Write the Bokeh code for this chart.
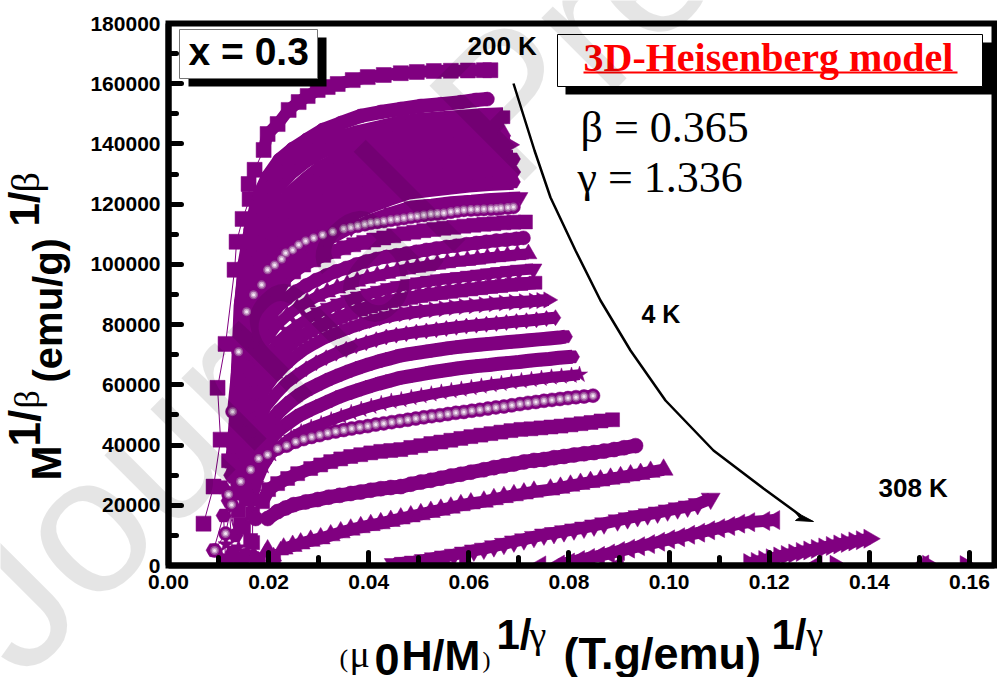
from math import pi, sin, cos
from bokeh.plotting import figure
from bokeh.models import FixedTicker, Range1d, NumeralTickFormatter
from bokeh.core.properties import value
from bokeh.embed import file_html
from bokeh.resources import INLINE

TITLE_X = ["(", "\u03bc", "0", "H/M", ")", "1/", "\u03b3", "(T.g/emu)", "1/", "\u03b3"]
X_TICKS = [0.00, 0.02, 0.04, 0.06, 0.08, 0.10, 0.12, 0.14, 0.16]
Y_TICKS = [0, 20000, 40000, 60000, 80000, 100000, 120000, 140000, 160000, 180000]

x01 = [.0070,.0090,.0104,.0098,.0114,.0132,.0136,.0148,.0162,.0160,.0172,.0190,.0198,.0218,.0240,.0260,.0278,.0298,.0318,.0338,.0368,.0398,.0430,.0464,.0496,.0530,.0564,.0598,.0630,.0643]
y01 = [13900,26200,41800,59000,73600,98200,107500,115100,121700,126700,131400,138000,143300,146600,151300,153900,155900,157900,158900,159900,161200,162200,162900,163500,163900,164200,164300,164400,164500,164500]
x02 = [.0130,.0138,.0142,.0146,.0152,.0164,.0180,.0198,.0222,.0248,.0276,.0308,.0344,.0384,.0424,.0464,.0504,.0544,.0584,.0614,.0637]
y02 = [31200,47800,71000,87600,100200,111500,122400,129000,134700,138300,141300,144600,146900,149300,150600,151600,152600,153200,153900,154600,154900]
x03 = [.0132,.0140,.0146,.0150,.0158,.017,.019,.021,.024,.027,.030,.034,.038,.042,.046,.050,.054,.058,.062,.0669]
y03 = [32000,47000,70000,86000,97000,107000,119000,125500,131000,135000,138000,141000,143000,144500,146000,147000,147500,148000,148500,148900]
x04 = [.0134,.0142,.0148,.0153,.016,.0175,.0195,.0215,.0245,.0275,.0305,.0345,.0385,.0425,.0465,.0505,.0545,.0585,.0625,.0669]
y04 = [30000,46000,68000,82000,92000,102000,111000,117000,123000,127500,131500,135000,137500,139800,141600,142500,143000,143500,143800,144000]
x05 = [.0136,.0144,.015,.0156,.0165,.018,.020,.022,.025,.028,.031,.035,.039,.043,.047,.051,.055,.059,.063,.0683]
y05 = [28000,45000,66000,78000,87000,97000,106000,112000,118000,122500,126500,130000,132800,135300,137500,138000,138500,139000,139300,139700]
x06 = [.0138,.0146,.0152,.0158,.0168,.0185,.0205,.0225,.0255,.0285,.0315,.0355,.0395,.0435,.0475,.0515,.0555,.0595,.0635,.0689]
y06 = [27000,43000,63000,74000,83000,92000,101000,107500,113500,118000,121500,125000,128000,130400,132500,133000,133600,134000,134500,135000]
x07 = [.014,.0148,.0154,.016,.017,.0187,.0207,.0227,.0257,.0287,.0317,.0357,.0397,.0437,.0477,.0517,.0557,.0597,.0637,.0693]
y07 = [26000,41000,60000,70000,79000,88000,97000,103000,109000,113500,117000,120500,123500,126000,128200,128800,129300,129800,130200,130700]
x08 = [.0142,.015,.0156,.0162,.0172,.019,.021,.023,.026,.029,.032,.036,.040,.044,.048,.052,.056,.060,.064,.0689]
y08 = [25000,39000,57000,67000,75000,84000,93000,99000,105000,109500,113000,116500,119500,122000,124200,125000,125800,126500,127000,127400]
x09 = [.0144,.0152,.0158,.0165,.0175,.0195,.0215,.0235,.0265,.0295,.0325,.0365,.0405,.0445,.0485,.0525,.0565,.0605,.0645,.0703]
y09 = [24000,37000,54000,64000,72000,80000,89000,95000,101000,105000,108500,112000,115000,117300,119400,120000,120800,121300,121900,122400]
x10 = [.0128,.0140,.0156,.0170,.0186,.0198,.0212,.0226,.0234,.0248,.0260,.0274,.0290,.0308,.0328,.0350,.0364,.0378,.0392,.0404,.0417,.0430,.0444,.0457,.0470,.0484,.0497,.0510,.0524,.0537,.0550,.0564,.0577,.0590,.0604,.0617,.0630,.0644,.0655,.0664,.0678,.0689]
y10 = [51100,71000,84300,89900,93200,98200,99800,101800,103800,104800,106500,107800,108800,109800,110800,111800,112300,112800,113300,113800,114100,114400,114800,115100,115400,115800,116100,116400,116700,116900,117100,117500,117800,118100,118200,118300,118400,118500,118600,118700,118900,119100]
x11 = [.0135,.0145,.016,.0175,.019,.021,.023,.025,.027,.029,.031,.033,.035,.037,.039,.041,.043,.045,.047,.049,.051,.053,.055,.057,.059,.061,.063,.065,.067,.069,.0713]
y11 = [45000,62000,76000,82000,87000,92000,95000,97500,99800,101500,103000,104300,105500,106500,107300,108100,108800,109500,110200,110700,111200,111600,112000,112300,112700,113000,113300,113500,113800,114000,114100]
x12 = [.014,.015,.0165,.018,.0195,.0215,.0235,.0255,.0275,.0295,.0315,.0335,.0355,.0375,.0395,.0415,.0435,.0455,.0475,.0495,.0515,.0535,.0555,.0575,.0595,.0615,.0635,.0655,.0675,.0695,.0709]
y12 = [42000,58000,70000,76000,81000,85500,88500,91000,93000,94800,96300,97700,98800,100000,101000,101800,102500,103000,103600,104200,104800,105300,105800,106200,106700,107100,107500,107900,108200,108500,108800]
x13 = [.0142,.0152,.0167,.0182,.0197,.0217,.0237,.0257,.0277,.0297,.0317,.0337,.0357,.0377,.0397,.0417,.0437,.0457,.0477,.0497,.0517,.0537,.0557,.0577,.0597,.0617,.0637,.0657,.0677,.0697,.0719]
y13 = [39000,54000,65000,71000,75500,80000,83000,85500,87500,89300,90800,92100,93300,94400,95400,96200,97000,97800,98400,99000,99500,100000,100500,101000,101300,101700,102100,102500,102800,103200,103500]
x14 = [.0145,.0155,.017,.0185,.020,.022,.024,.026,.028,.030,.032,.034,.036,.038,.040,.042,.044,.046,.048,.050,.052,.054,.056,.058,.060,.062,.064,.066,.068,.070,.0729]
y14 = [37000,50000,61000,66000,70000,74500,77500,80000,82200,84000,85500,86900,88100,89200,90200,91100,92000,92700,93300,93900,94400,94900,95300,95700,96100,96500,96900,97300,97700,98100,98500]
x15 = [.015,.016,.0175,.019,.0205,.0225,.0245,.0265,.0285,.0305,.0325,.0345,.0365,.0385,.0405,.0425,.0445,.0465,.0485,.0505,.0525,.0545,.0565,.0585,.0605,.0625,.0645,.0665,.0685,.0705,.0733]
y15 = [35000,47000,57000,62000,66000,70500,73500,76000,78000,79800,81200,82500,83800,85000,86000,87000,87800,88300,88900,89500,90000,90500,90900,91300,91700,92100,92500,92800,93200,93500,93900]
x16 = [.015,.016,.0175,.019,.021,.023,.025,.027,.029,.031,.033,.035,.037,.039,.041,.043,.045,.047,.049,.051,.053,.055,.057,.059,.061,.063,.065,.067,.069,.071,.073,.0745,.0759]
y16 = [33000,44000,53000,58000,62500,66000,69000,71500,73500,75300,76800,78100,79300,80400,81400,82300,83000,83600,84100,84500,84900,85300,85700,86000,86300,86600,86900,87200,87400,87600,87800,88000,88200]
x17 = [.0155,.0165,.018,.0195,.0215,.0235,.0255,.0275,.0295,.0315,.0335,.0355,.0375,.0395,.0415,.0435,.0455,.0475,.0495,.0515,.0535,.0555,.0575,.0595,.0615,.0635,.0655,.0675,.0695,.0715,.0735,.0755,.0773]
y17 = [30000,40000,48000,53000,57000,60500,63000,65300,67300,69000,70500,71800,73000,74000,75000,75900,76500,77000,77500,77900,78300,78700,79100,79500,79800,80100,80400,80700,81000,81300,81600,82000,82300]
x18 = [.016,.017,.0185,.020,.022,.024,.026,.028,.030,.032,.034,.036,.038,.040,.042,.044,.046,.048,.050,.052,.054,.056,.058,.060,.062,.064,.066,.068,.070,.072,.074,.076,.078,.0793]
y18 = [28000,36000,42500,47000,51000,54000,56500,58500,60200,61800,63200,64500,65700,66800,67800,68700,69600,70200,70700,71200,71700,72200,72600,73000,73300,73600,73900,74200,74500,74800,75100,75400,75700,76000]
x19 = [.016,.017,.0185,.020,.022,.024,.026,.028,.030,.032,.034,.036,.038,.040,.042,.044,.046,.048,.050,.052,.054,.056,.058,.060,.062,.064,.066,.068,.070,.072,.074,.076,.078,.0807]
y19 = [25000,32000,37500,41500,45000,47500,49800,51500,53000,54500,56000,57200,58300,59400,60400,61300,62200,62800,63400,64000,64500,65000,65500,65900,66300,66600,67000,67300,67600,68000,68300,68600,69000,69300]
x20 = [.0165,.0175,.019,.0205,.0225,.0245,.0265,.0285,.0305,.0325,.0345,.0365,.0385,.0405,.0425,.0445,.0465,.0485,.0505,.0525,.0545,.0565,.0585,.0605,.0625,.0645,.0665,.0685,.0705,.0725,.0745,.0765,.0785,.0805,.0821]
y20 = [20000,27000,33000,37000,40000,42500,44300,45800,47000,48300,49500,50700,51800,52800,53700,54500,55000,55700,56300,56900,57500,58000,58500,59000,59500,60000,60400,60900,61300,61700,62100,62500,62800,63100,63400]
x21 = [.0092,.0114,.0126,.0120,.0144,.0164,.0180,.0198,.0218,.0236,.0254,.0270,.0286,.0302,.0318,.0334,.0350,.0366,.0382,.0398,.0414,.0430,.0446,.0462,.0478,.0494,.0510,.0526,.0542,.0558,.0574,.0590,.0606,.0622,.0638,.0654,.0670,.0686,.0702,.0718,.0734,.0750,.0766,.0782,.0798,.0814,.0830,.0848]
y21 = [5000,10600,20200,23600,27900,31800,35500,36800,38800,39800,41100,42000,42700,43300,44000,44500,45000,45500,45900,46300,46800,47200,47600,48000,48400,48800,49200,49600,49900,50300,50700,51000,51400,51700,52100,52500,52800,53200,53600,54000,54300,54700,55000,55300,55600,55900,56100,56400]
x22 = [.0144,.0168,.0168,.0188,.0200,.0218,.0238,.0258,.0284,.0304,.0324,.0344,.0364,.0384,.0404,.0424,.0444,.0464,.0484,.0504,.0524,.0544,.0564,.0584,.0604,.0624,.0644,.0664,.0684,.0704,.0724,.0744,.0764,.0784,.0804,.0824,.0844,.0864,.0887]
y22 = [13600,7600,17200,21200,25200,27200,28900,30500,32200,33400,34500,35400,36200,36800,37400,37900,38200,38500,39200,39800,40500,41000,41600,42200,42800,43300,43800,44300,44800,45200,45400,45700,46000,46300,46700,47100,47500,48000,48400]
x23 = [.0174,.0198,.0218,.0234,.025,.0274,.0298,.0320,.0342,.0364,.0384,.0404,.0424,.0444,.0464,.0484,.0504,.0524,.0544,.0564,.0584,.0604,.0630,.0650,.0670,.0690,.0710,.0730,.0750,.0770,.0790,.0810,.0830,.0850,.0870,.0890,.0910,.0933]
y23 = [15600,15600,17900,19100,20200,21100,21900,22700,23300,23900,24400,25000,25500,25900,26200,27000,27700,28300,29000,29700,30300,31000,31800,32500,33100,33700,34400,34900,35200,35800,36200,36700,37100,37500,38000,38500,39100,39800]
x24 = [.0170,.0198,.0230,.0248,.0264,.0284,.0304,.0324,.0344,.0364,.0384,.0404,.0424,.0444,.0464,.0484,.0504,.0524,.0544,.0564,.0584,.0604,.0630,.0650,.0670,.0690,.0710,.0730,.0763,.0783,.0803,.0823,.0843,.0863,.0883,.0903,.0923,.0943,.0963,.0989]
y24 = [3000,5000,5600,6500,7300,8200,9000,10000,11000,11900,12700,13400,14000,14800,15600,16300,17000,17800,18500,19200,20000,20600,21200,22000,22700,23300,23900,24500,25200,25800,26500,27100,27700,28200,28800,29300,29900,30400,31100,31800]
x25 = [.0450,.0470,.0490,.0510,.0530,.0550,.0570,.0590,.0610,.0630,.0650,.0670,.0690,.0710,.0730,.0750,.0770,.0790,.0810,.0830,.0850,.0870,.0897,.0917,.0937,.0957,.0977,.0997,.1017,.1037,.1057,.1083]
y25 = [500,900,1300,1800,2400,3000,3600,4300,5000,5600,6400,7200,8000,8700,9500,10300,10800,11400,12000,12600,13300,14000,15000,15700,16400,17000,17600,18300,19000,19600,20400,22200]
x26 = [.0780,.0800,.0820,.0840,.0860,.0880,.0900,.0920,.0940,.0960,.0980,.1000,.1020,.1040,.1060,.1080,.1100,.1120,.1140,.1160,.1190,.1210]
y26 = [300,1000,1800,2500,3200,4000,4800,5600,6400,7100,7900,8700,9400,10200,10900,11700,12400,13100,13900,14400,14800,15100]
x27 = [.1160,.1175,.119,.1205,.122,.1235,.125,.1265,.128,.1295,.131,.1325,.134,.1355,.137,.1385,.1400]
y27 = [800,1200,1800,2400,3000,3500,4000,4500,5000,5500,6000,6500,7000,7500,8000,8400,8900]

low_hex_x = [.0090,.0110,.0114,.0128,.0120,.0134,.0108,.0125,.0128,.0135,.0140,.0145]
low_hex_y = [5100,16600,1700,4300,21500,10000,26000,30000,40000,33000,44000,26000]
low_star_x = [.0120,.0105,.0115,.0130,.0140]
low_star_y = [1700,3000,7000,2000,6000]
low_sq_x = [.0150,.0164,.0140,.0134,.0120,.0128,.0210,.0180,.0155]
low_sq_y = [12600,8300,18200,29800,34800,24000,1700,1700,22000]
low_cir_x = [.0154,.0174,.0146]
low_cir_y = [3300,2300,1800]
low_tri_x = [.0194,.0224,.0210]
low_tri_y = [4300,5000,3000]
low_left_x = [.0900,.1297,.1510,.0745]
low_left_y = [600,900,1000,700]
low_right_x = [.0550,.0590,.1330,.1590,.1515]
low_right_y = [800,900,900,800,900]

PURPLE = "#800080"
R, L = -pi / 2, pi / 2
# x, y, marker, marker size, marker angle, band width, index where the band starts
series = [
    (x01, y01, "square", 15, 0, 12, 11), (x02, y02, "circle", 14, 0, 14, 0), (x03, y03, "square", 13, 0, 20, 0),
    (x04, y04, "triangle", 15, 0, 18, 0), (x05, y05, "triangle", 16, R, 18, 0), (x06, y06, "hex", 14, 0, 18, 0),
    (x07, y07, "diamond", 16, 0, 16, 0), (x08, y08, "hex", 14, 0, 16, 0), (x09, y09, "inverted_triangle", 15, 0, 11, 0),
    (x10, y10, "circle", 14, 0, 11, 0), (x11, y11, "square", 14, 0, 13, 0), (x12, y12, "circle", 14, 0, 13, 0),
    (x13, y13, "triangle", 17, 0, 11, 0), (x14, y14, "inverted_triangle", 17, 0, 11, 0), (x15, y15, "square", 13, 0, 13, 0),
    (x16, y16, "triangle", 16, R, 12, 0), (x17, y17, "diamond", 16, 0, 12, 0), (x18, y18, "hex", 14, 0, 14, 0),
    (x19, y19, "hex", 14, 0, 14, 0), (x20, y20, "star", 17, 0, 11, 0), (x21, y21, "circle", 14, 0, 12, 4),
    (x22, y22, "square", 14, 0, 13, 3), (x23, y23, "circle", 15, 0, 14, 1), (x24, y24, "triangle", 19, 0, 12, 2),
    (x25, y25, "inverted_triangle", 19, 0, 12, 0), (x26, y26, "triangle", 19, L, 12, 0), (x27, y27, "triangle", 19, R, 12, 0),
    (low_hex_x, low_hex_y, "hex", 15, 0, 0, 0), (low_star_x, low_star_y, "star", 17, 0, 0, 0),
    (low_sq_x, low_sq_y, "square", 14, 0, 0, 0), (low_cir_x, low_cir_y, "circle", 15, 0, 0, 0),
    (low_tri_x, low_tri_y, "triangle", 16, 0, 0, 0), (low_left_x, low_left_y, "triangle", 15, L, 0, 0),
    (low_right_x, low_right_y, "triangle", 15, R, 0, 0),
]

W, H = 997, 677
LEFT, RIGHT, TOP, BOTTOM = 168, 994, 23, 565
XMAX, YMAX = 0.165, 180000.0
def X(px): return (px - LEFT) / (RIGHT - LEFT) * XMAX
def Y(py): return (BOTTOM - py) / (BOTTOM - TOP) * YMAX

p = figure(width=W, height=H, output_backend="svg", toolbar_location=None,
           x_range=Range1d(X(0), X(W)), y_range=Range1d(Y(H), Y(0)),
           min_border=0, frame_width=W, frame_height=H)
p.grid.visible = False
p.outline_line_color = None

for ax, major, minor, bounds in ((p.xaxis[0], X_TICKS, [0.01, 0.03, 0.05, 0.07, 0.09, 0.11, 0.13, 0.15], (0, XMAX)),
                                 (p.yaxis[0], Y_TICKS, [10000 + 20000 * i for i in range(9)], (0, YMAX))):
    ax.ticker = FixedTicker(ticks=major, minor_ticks=minor)
    ax.fixed_location = 0
    ax.bounds = bounds
    ax.axis_line_width = 6
    ax.axis_line_color = "black"
    ax.major_tick_in, ax.major_tick_out = 13, 0
    ax.minor_tick_in, ax.minor_tick_out = 8, 0
    ax.major_tick_line_width = 5
    ax.minor_tick_line_width = 5
    ax.major_tick_line_cap = "round"
    ax.minor_tick_line_cap = "round"
    ax.major_label_text_font = "Liberation Sans"
    ax.major_label_text_font_style = "bold"
    ax.major_label_text_font_size = "21px"
    ax.major_label_text_color = "black"
p.xaxis[0].formatter = NumeralTickFormatter(format="0.00")
p.yaxis[0].formatter = NumeralTickFormatter(format="0")
p.xaxis[0].major_label_standoff = 9
p.yaxis[0].major_label_standoff = 8

for xs, ys, m, s, a, band, k in series:
    if len(xs) > 10:
        p.line(xs, ys, line_color=PURPLE, line_width=1)
    if band:
        p.line(xs[k:], ys[k:], line_color=PURPLE, line_width=band)
    p.scatter(xs, ys, marker=m, size=s, angle=a, fill_color=PURPLE, line_color=PURPLE, line_width=0.5)

for xs, ys in ((x10, y10), (x21, y21)):
    p.scatter(xs, ys, marker="circle", size=9, fill_color="#9a4c9a", line_color=None)
    p.scatter(xs, ys, marker="circle", size=6, fill_color="#c9a0c9", line_color=None)
    p.scatter(xs, ys, marker="circle", size=3, fill_color="#f4e8f4", line_color=None)

# white below the axis: marks end at the axis line
p.quad(left=X(0), right=X(W), top=0, bottom=Y(H), fill_color="white", line_color=None)

# trend arrow
arrow_px = [513, 523, 534, 550, 575, 600, 630, 665, 713, 763, 800]
arrow_py = [83, 115, 150, 197, 250, 300, 350, 400, 450, 488, 515]
p.line([X(v) for v in arrow_px], [Y(v) for v in arrow_py], line_color="black", line_width=2.5)
head_px, head_py = [813, 794, 799, 795], [521, 511, 517, 520]
p.patch([X(v) for v in head_px], [Y(v) for v in head_py], fill_color="black", line_color="black", line_width=1)

# frame
p.quad(left=0, right=XMAX, bottom=0, top=YMAX, fill_color=None, line_color="black", line_width=6, line_join="miter")

def box(l, r, t, b, fill, line=None):
    p.quad(left=X(l), right=X(r), top=Y(t), bottom=Y(b), fill_color=fill, line_color=line, line_width=1)

BASE = 0.37  # the browser draws this text this far (in em) under the asked-for baseline
def text(s, px, py, size, font="Liberation Sans", style="normal", color="black", angle=0.0, alpha=1.0):
    p.text(x=[X(px - BASE * size * sin(angle))], y=[Y(py - BASE * size * cos(angle))], text=[s],
           text_font=value(font), text_font_style=style,
           text_font_size=value(f"{size}px"), text_color=color, angle=angle, text_alpha=alpha,
           text_baseline="alphabetic", text_align="left")

box(188, 326, 37, 86, "black")
box(179, 317, 29, 78, "white", "#777777")
text("x = 0.3", 188, 65, 39, style="bold")
box(565, 992, 42, 94, "black")
box(557, 982, 34, 86, "white", "black")
text("3D-Heisenberg model", 583, 72, 40, font="Liberation Serif", style="bold", color="red")
box(583, 957, 71, 73, "red")
text("\u03b2 = 0.365", 580, 143, 44, font="Liberation Serif")
text("\u03b3 = 1.336", 577, 193, 44, font="Liberation Serif")
text("200 K", 467, 55, 26, style="bold")
text("4 K", 641, 323, 25, style="bold")
text("308 K", 878, 497, 26, style="bold")

# x title, pieces in order
text(TITLE_X[0], 339, 668, 26, font="Liberation Serif")
text(TITLE_X[1], 349, 668, 38, font="Liberation Serif")
text(TITLE_X[2], 374, 676, 45, style="bold")
text(TITLE_X[3], 401, 670, 43, style="bold")
text(TITLE_X[4], 482, 668, 24, font="Liberation Serif")
text(TITLE_X[5], 496, 650, 42, style="bold")
text(TITLE_X[6], 529, 649, 38, font="Liberation Serif")
text(TITLE_X[7], 563, 670, 45, style="bold")
text(TITLE_X[8], 771, 650, 42, style="bold")
text(TITLE_X[9], 806, 649, 38, font="Liberation Serif")

# y title, pieces in order, rotated
UP = pi / 2
text("M", 62, 480, 42, style="bold", angle=UP)
text("1/", 40, 446, 44, style="bold", angle=UP)
text("\u03b2", 40, 408, 36, font="Liberation Serif", angle=UP)
text("(emu/g)", 62, 382, 40, style="bold", angle=UP)
text("1/", 40, 226, 42, style="bold", angle=UP)
text("\u03b2", 40, 192, 40, font="Liberation Serif", angle=UP)

# watermark
text("Journal Pre-proof", 25, 685, 195, color="black", angle=pi / 4, alpha=0.1)

open("out.html", "w").write(file_html(p, INLINE))
